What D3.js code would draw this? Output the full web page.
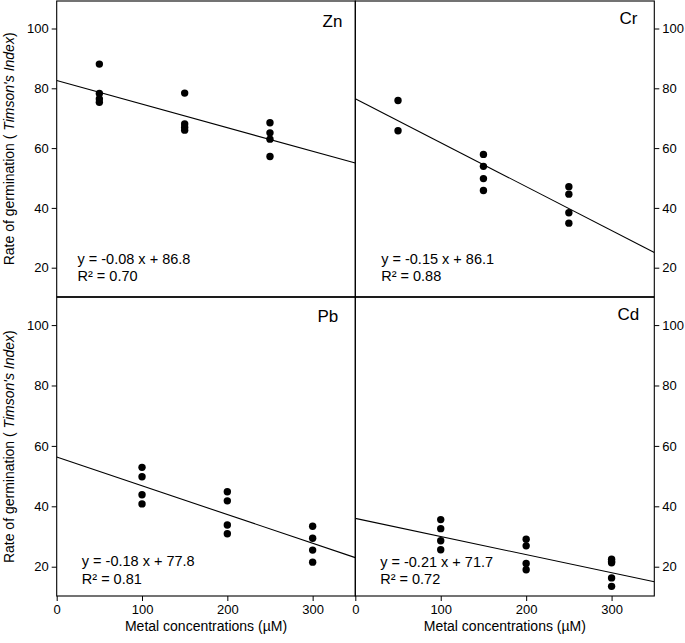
<!DOCTYPE html>
<html><head><meta charset="utf-8">
<script src="https://cdn.jsdelivr.net/npm/d3@7"></script>
<style>body{margin:0;background:#fff}svg{display:block}text{font-family:"Liberation Sans",Arial,sans-serif;fill:#000}</style>
</head><body><svg id="c" width="685" height="643"></svg>
<script>
// ---- data ----
const metals = ["Zn", "Cr", "Pb", "Cd"];
const znX = [50,50,50,50,150,150,150,150,250,250,250,250];
const znY = [88.1,78.3,76.4,75.3,78.4,68.1,67.0,66.0,68.5,65.1,63.0,57.2];
const crX = [50,50,150,150,150,150,250,250,250,250];
const crY = [75.9,65.8,57.9,53.9,49.8,45.8,47.1,44.6,38.4,34.9];
const pbX = [100,100,100,100,200,200,200,200,300,300,300,300];
const pbY = [52.9,49.8,43.8,40.8,44.8,41.8,33.8,30.9,33.4,29.4,25.5,21.5];
const cdX = [100,100,100,100,200,200,200,200,300,300,300,300,300];
const cdY = [35.6,32.6,28.6,25.6,29.1,26.9,21.1,19.0,22.5,21.7,21.3,16.3,13.5];
// fitted line values read at x = 0 and x = 350
const lineAt0   = [82.6, 76.5, 56.3, 36.0];
const lineAt350 = [55.0, 25.1, 23.0, 15.0];
const equations = ["y = -0.08 x + 86.8", "y = -0.15 x + 86.1", "y = -0.18 x + 77.8", "y = -0.21 x + 71.7"];
const r2Labels  = ["R\u00b2 = 0.70", "R\u00b2 = 0.88", "R\u00b2 = 0.81", "R\u00b2 = 0.72"];
const yTicks = [20, 40, 60, 80, 100];
const xTicks = [0, 100, 200, 300];
const xDomain = [0, 350];
const yDomain = [10.3, 109.2];
const yTitle = ["Rate of germination ( ", "Timson's Index", ")"];
const xTitle = "Metal concentrations (\u00b5M)";

// ---- layout ----
const seriesX = [znX, crX, pbX, cdX];
const seriesY = [znY, crY, pbY, cdY];
const panels = [
  {x0:56.7, x1:355.3, y0:1,   y1:296.7, side:"left",  bottom:false, lab:[322.5,26.8], eq:[77.5,263.5]},
  {x0:355.3,x1:654.3, y0:1,   y1:296.7, side:"right", bottom:false, lab:[619.5,24.3], eq:[381.2,263.5]},
  {x0:56.7, x1:355.3, y0:297.3,y1:596,  side:"left",  bottom:true,  lab:[317.5,322],  eq:[81.8,566]},
  {x0:355.3,x1:654.3, y0:297.3,y1:596,  side:"right", bottom:true,  lab:[617.5,319.5],eq:[380.2,566.5]}
];

const svg = d3.select("#c");

panels.forEach((p, i) => {
  const x = d3.scaleLinear().domain(xDomain).range([p.x0, p.x1]);
  const y = d3.scaleLinear().domain(yDomain).range([p.y1, p.y0]);
  const g = svg.append("g");

  // y axis
  const ya = (p.side === "left" ? d3.axisLeft(y) : d3.axisRight(y))
    .tickValues(yTicks).tickSize(5).tickPadding(3).tickSizeOuter(0);
  const yg = g.append("g").attr("transform", `translate(${p.side === "left" ? p.x0 : p.x1},0)`).call(ya);
  yg.select(".domain").remove();
  yg.selectAll("text").style("font-size", "13px").attr("font-family", null);
  yg.selectAll("line").attr("stroke", "#000");

  if (p.bottom) {
    const xa = d3.axisBottom(x).tickValues(xTicks).tickSize(5).tickPadding(4).tickSizeOuter(0);
    const xg = g.append("g").attr("transform", `translate(0,${p.y1})`).call(xa);
    xg.select(".domain").remove();
    xg.selectAll("text").style("font-size", "13px").attr("font-family", null);
    xg.selectAll("line").attr("stroke", "#000");
  }

  // clip for the fitted line
  const cid = "clip" + i;
  svg.append("clipPath").attr("id", cid).append("rect")
    .attr("x", p.x0).attr("y", p.y0).attr("width", p.x1 - p.x0).attr("height", p.y1 - p.y0);

  g.append("line").attr("clip-path", `url(#${cid})`)
    .attr("x1", x(xDomain[0])).attr("y1", y(lineAt0[i]))
    .attr("x2", x(xDomain[1])).attr("y2", y(lineAt350[i]))
    .attr("stroke", "#000").attr("stroke-width", 1.1);

  const pts = seriesX[i].map((v, k) => [v, seriesY[i][k]]);
  g.selectAll("circle.d").data(pts).join("circle")
    .attr("cx", d => x(d[0])).attr("cy", d => y(d[1])).attr("r", 3.7).attr("fill", "#000");

  // frame
  g.append("rect").attr("x", p.x0).attr("y", p.y0).attr("width", p.x1 - p.x0).attr("height", p.y1 - p.y0)
    .attr("fill", "none").attr("stroke", "#000").attr("stroke-width", 1.1);

  // labels
  g.append("text").attr("x", p.lab[0]).attr("y", p.lab[1]).style("font-size", "17px").text(metals[i]);
  g.append("text").attr("x", p.eq[0]).attr("y", p.eq[1]).style("font-size", "14.5px").text(equations[i]);
  g.append("text").attr("x", p.eq[0]).attr("y", p.eq[1] + 17.5).style("font-size", "14.5px").text(r2Labels[i]);

  if (p.side === "left") {
    const cy = (p.y0 + p.y1) / 2;
    const t = g.append("text").attr("transform", `translate(14,${cy}) rotate(-90)`)
      .attr("text-anchor", "middle").style("font-size", "14px");
    t.append("tspan").text(yTitle[0]);
    t.append("tspan").style("font-style", "italic").text(yTitle[1]);
    t.append("tspan").text(yTitle[2]);
  }
  if (p.bottom) {
    g.append("text").attr("x", (p.x0 + p.x1) / 2).attr("y", 631).attr("text-anchor", "middle")
      .style("font-size", "14px").text(xTitle);
  }
});
</script></body></html>
